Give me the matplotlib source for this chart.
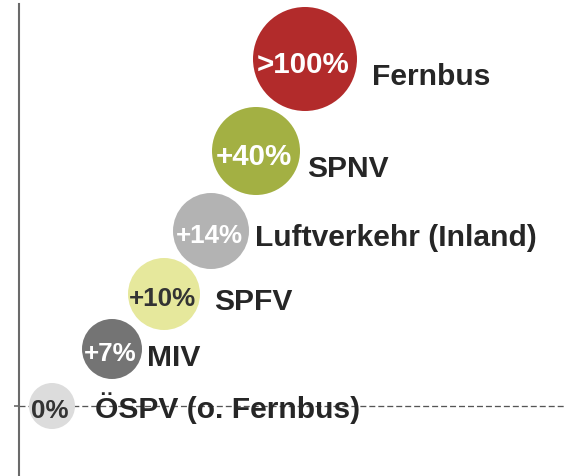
import matplotlib
matplotlib.use("Agg")
import matplotlib.pyplot as plt

# ---- data ----
categories = ["ÖSPV (o. Fernbus)", "MIV", "SPFV", "Luftverkehr (Inland)", "SPNV", "Fernbus"]
growth_labels = ["0%", "+7%", "+10%", "+14%", "+40%", ">100%"]
bubble_x = [33, 93, 145, 192, 237, 286]
bubble_y = [0, 57, 112, 175, 255, 347]
bubble_r = [23, 30, 36, 38, 44, 52]

# ---- styling / layout ----
colors = ["#dcdcdc", "#747474", "#e6e89c", "#b3b3b3", "#a3b043", "#b22b2b"]
inner_text_colors = ["#333333", "white", "#333333", "white", "white", "white"]
inner_font_px = [26, 26, 26, 26, 29.5, 29.5]
label_dx = [20, 5, 14, 6, 7, 15]          # gap from bubble edge to label
label_dy = [-11, -16, -15, -14, -25, -25]  # baseline offset from bubble centre
text_color = "#262626"

W, H, DPI = 564, 477, 100
fig = plt.figure(figsize=(W / DPI, H / DPI), dpi=DPI)
ax = fig.add_axes([19 / W, 0, 545 / W, 472 / H])
ax.set_xlim(0, 545)
ax.set_ylim(-70, 402)

plt.rcParams["font.family"] = ["Liberation Sans", "DejaVu Sans"]
px = 72 / DPI

for s in ["top", "right", "bottom"]:
    ax.spines[s].set_visible(False)
ax.spines["left"].set_color("#6a6a6a")
ax.spines["left"].set_linewidth(1.5)
ax.set_xticks([])
ax.set_yticks([0])
ax.set_yticklabels([])
ax.tick_params(axis="y", length=5 * px, width=1.2, color="#6a6a6a", direction="out")

ax.axhline(0, color="#555555", lw=1.0 * px * 1.3, linestyle=(0, (4.6, 2.3)), zorder=1)

for x, y, r, c in zip(bubble_x, bubble_y, bubble_r, colors):
    ax.add_patch(plt.Circle((x, y), r, facecolor=c, edgecolor="none", zorder=2))

for x, y, lab, tc, fs in zip(bubble_x, bubble_y, growth_labels, inner_text_colors, inner_font_px):
    ax.text(x - 2, y - 0.36 * fs - 2, lab, ha="center", va="baseline",
            fontsize=fs * px, fontweight="bold", color=tc, zorder=3)

for x, y, r, name, dx, dy in zip(bubble_x, bubble_y, bubble_r, categories, label_dx, label_dy):
    ax.text(x + r + dx, y + dy, name, ha="left", va="baseline",
            fontsize=30 * px, fontweight="bold", color=text_color, zorder=3)

fig.savefig("out.png", dpi=DPI)
